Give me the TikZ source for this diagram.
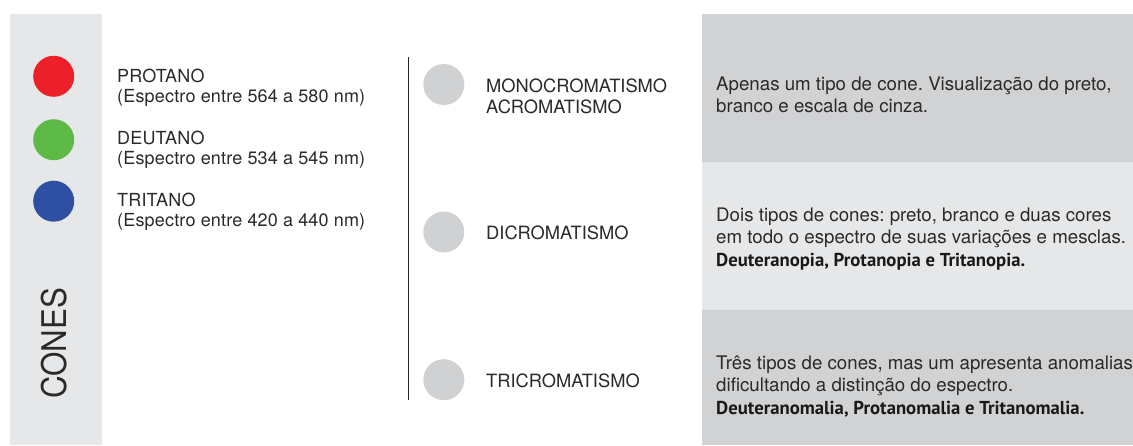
\documentclass[tikz,border=0pt]{standalone}
\usepackage{fontspec}
\setmainfont{TeX Gyre Heros}
\newfontfamily\boldfam{PT Sans}
\frenchspacing
\definecolor{lightband}{HTML}{E6E7E8}
\definecolor{darkband}{HTML}{D1D2D4}
\definecolor{dotgray}{HTML}{D0D1D3}
\definecolor{conered}{HTML}{EC2028}
\definecolor{conegreen}{HTML}{5DBA47}
\definecolor{coneblue}{HTML}{2F4FA2}
\definecolor{txt}{HTML}{2A2A2A}
\tikzset{
  dot/.style={circle, minimum size=41pt, inner sep=0pt, draw=none},
  lefttext/.style={anchor=base west, inner sep=0pt, text=txt, font=\fontsize{18}{20}\selectfont\addfontfeature{LetterSpace=1}},
  midtext/.style={anchor=base west, inner sep=0pt, text=txt, font=\fontsize{18.3}{21}\selectfont},
  righttext/.style={anchor=base west, inner sep=0pt, text=txt, font=\fontsize{18.7}{22}\selectfont},
  rightbold/.style={anchor=base west, inner sep=0pt, text=black!90, font=\boldfam\bfseries\fontsize{18.7}{22}\selectfont},
}
\begin{document}
\begin{tikzpicture}[x=1pt,y=-1pt]
\useasboundingbox (0,0) rectangle (1133,445);
\fill[white] (0,0) rectangle (1133,445);
% panels
\fill[lightband] (10,14) rectangle (101.5,445);
\fill[darkband] (702,14) rectangle (1133,161.5);
\fill[lightband] (702,161.5) rectangle (1133,309.5);
\fill[darkband] (702,309.5) rectangle (1133,445);
% left column
\node[dot, fill=conered] (red) at (53.7,76.3) {};
\node[dot, fill=conegreen] (green) at (53.7,139.7) {};
\node[dot, fill=coneblue] (blue) at (53.7,201.2) {};
\node[rotate=90, inner sep=0pt, text=txt, font=\fontsize{34}{34}\selectfont\addfontfeature{FakeStretch=0.92}] (cones) at (53.7,343.3) {CONES};
\node[lefttext] (protano) at (117,82.5) {PROTANO};
\node[lefttext] (protanosp) at (117,102.5) {(Espectro entre 564 a 580 nm)};
\node[lefttext] (deutano) at (117,144.5) {DEUTANO};
\node[lefttext] (deutanosp) at (117,164.5) {(Espectro entre 534 a 545 nm)};
\node[lefttext] (tritano) at (117,206.5) {TRITANO};
\node[lefttext] (tritanosp) at (117,226.5) {(Espectro entre 420 a 440 nm)};
% middle column
\coordinate (ltop) at (408.3,57.3);
\coordinate (lbot) at (408.3,400);
\draw[line width=1.3pt, black!85] (ltop) -- (lbot);
\node[dot, fill=dotgray] (g1) at (443.8,84.5) {};
\node[dot, fill=dotgray] (g2) at (443.8,232) {};
\node[dot, fill=dotgray] (g3) at (443.8,379.7) {};
\node[midtext] (mono) at (486,92) {MONOCROMATISMO};
\node[midtext] (acro) at (486,113) {ACROMATISMO};
\node[midtext] (dicro) at (486,239) {DICROMATISMO};
\node[midtext] (tricro) at (486,387) {TRICROMATISMO};
% right column
\node[righttext] (r1a) at (716,90.5) {Apenas um tipo de cone. Visualização do preto,};
\node[righttext] (r1b) at (716,112.5) {branco e escala de cinza.};
\node[righttext] (r2a) at (716,221.5) {Dois tipos de cones: preto, branco e duas cores};
\node[righttext] (r2b) at (716,243.5) {em todo o espectro de suas variações e mesclas.};
\node[rightbold] (r2c) at (716,266) {Deuteranopia, Protanopia e Tritanopia.};
\node[righttext] (r3a) at (716,369) {Três tipos de cones, mas um apresenta anomalias};
\node[righttext] (r3b) at (716,391.5) {dificultando a distinção do espectro.};
\node[rightbold] (r3c) at (716,414.5) {Deuteranomalia, Protanomalia e Tritanomalia.};
\end{tikzpicture}
\end{document}
